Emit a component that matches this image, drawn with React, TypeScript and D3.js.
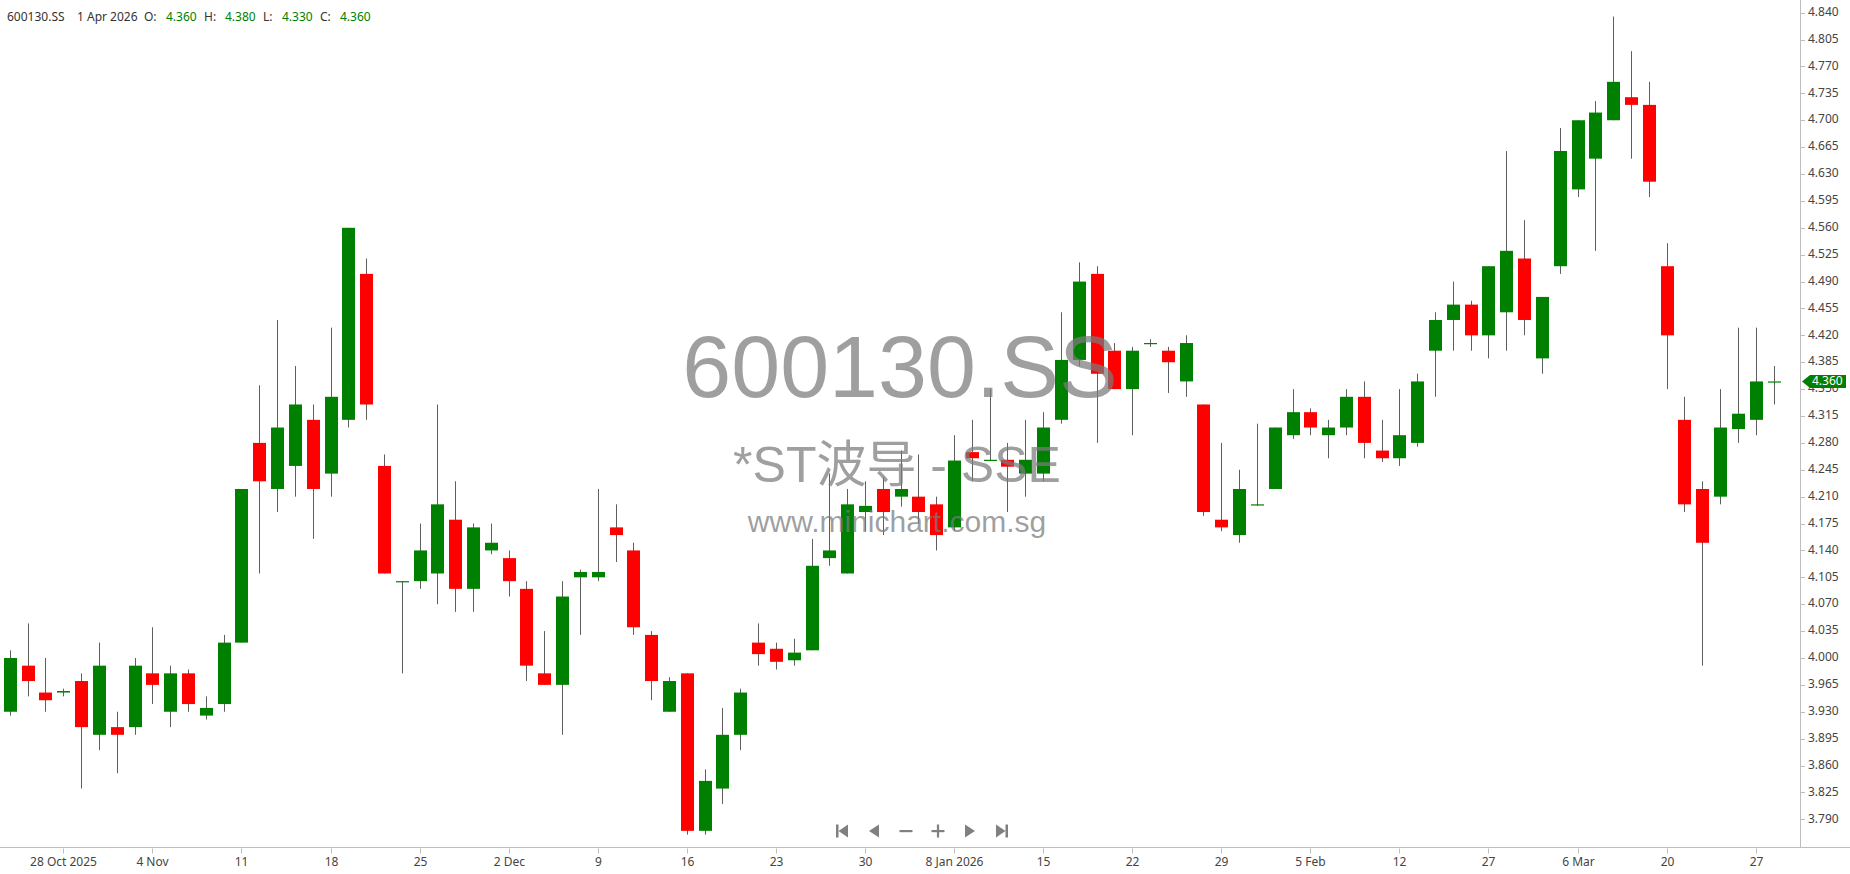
import React, { useEffect } from 'react';
import * as d3 from 'd3';

// ---- data (index 0..99, trading days) ----
const opens = [
  3.93, 3.99, 3.955, 3.955, 3.97, 3.90, 3.91, 3.91, 3.98, 3.93,
  3.98, 3.925, 3.94, 4.02, 4.28, 4.22, 4.25, 4.31, 4.24, 4.31,
  4.50, 4.25, 4.10, 4.10, 4.11, 4.18, 4.09, 4.14, 4.13, 4.09,
  3.98, 3.965, 4.105, 4.105, 4.17, 4.14, 4.03, 3.93, 3.98, 3.775,
  3.83, 3.90, 4.02, 4.012, 3.997, 4.01, 4.13, 4.11, 4.19, 4.22,
  4.21, 4.21, 4.20, 4.17, 4.268, 4.258, 4.258, 4.24, 4.24, 4.31,
  4.388, 4.50, 4.40, 4.35, 4.41, 4.40, 4.36, 4.33, 4.18, 4.16,
  4.20, 4.22, 4.29, 4.32, 4.29, 4.30, 4.34, 4.27, 4.26, 4.28,
  4.40, 4.44, 4.46, 4.42, 4.45, 4.52, 4.39, 4.51, 4.61, 4.65,
  4.70, 4.73, 4.72, 4.51, 4.31, 4.22, 4.21, 4.298, 4.31, 4.36,
];
const highs = [
  4.01, 4.045, 4.00, 3.96, 3.98, 4.02, 3.93, 4.00, 4.04, 3.99,
  3.985, 3.95, 4.03, 4.22, 4.355, 4.44, 4.38, 4.33, 4.43, 4.56,
  4.52, 4.265, 4.10, 4.175, 4.33, 4.23, 4.175, 4.175, 4.14, 4.10,
  4.035, 4.10, 4.115, 4.22, 4.20, 4.15, 4.035, 3.975, 3.98, 3.855,
  3.935, 3.96, 4.045, 4.02, 4.025, 4.155, 4.24, 4.22, 4.23, 4.235,
  4.27, 4.265, 4.21, 4.29, 4.31, 4.35, 4.28, 4.31, 4.32, 4.45,
  4.515, 4.51, 4.41, 4.405, 4.415, 4.405, 4.42, 4.33, 4.28, 4.245,
  4.305, 4.30, 4.35, 4.325, 4.31, 4.35, 4.36, 4.31, 4.35, 4.37,
  4.45, 4.49, 4.465, 4.51, 4.66, 4.57, 4.47, 4.69, 4.70, 4.725,
  4.835, 4.79, 4.75, 4.54, 4.34, 4.23, 4.35, 4.43, 4.43, 4.38,
];
const lows = [
  3.925, 3.95, 3.93, 3.95, 3.83, 3.88, 3.85, 3.90, 3.94, 3.91,
  3.93, 3.92, 3.93, 4.02, 4.11, 4.19, 4.21, 4.155, 4.21, 4.30,
  4.31, 4.11, 3.98, 4.09, 4.07, 4.06, 4.06, 4.135, 4.08, 3.97,
  3.965, 3.90, 4.03, 4.10, 4.125, 4.03, 3.945, 3.93, 3.77, 3.77,
  3.81, 3.88, 3.99, 3.985, 3.99, 4.01, 4.12, 4.11, 4.165, 4.16,
  4.197, 4.175, 4.14, 4.165, 4.23, 4.257, 4.19, 4.21, 4.23, 4.305,
  4.38, 4.28, 4.35, 4.29, 4.405, 4.345, 4.34, 4.185, 4.165, 4.15,
  4.198, 4.22, 4.285, 4.29, 4.26, 4.29, 4.26, 4.255, 4.25, 4.275,
  4.34, 4.40, 4.40, 4.39, 4.40, 4.42, 4.37, 4.50, 4.60, 4.53,
  4.70, 4.65, 4.60, 4.35, 4.19, 3.99, 4.20, 4.28, 4.29, 4.33,
];
const closes = [
  4.00, 3.97, 3.945, 3.957, 3.91, 3.99, 3.90, 3.99, 3.965, 3.98,
  3.94, 3.935, 4.02, 4.22, 4.23, 4.30, 4.33, 4.22, 4.34, 4.56,
  4.33, 4.11, 4.10, 4.14, 4.20, 4.09, 4.17, 4.15, 4.10, 3.99,
  3.965, 4.08, 4.112, 4.112, 4.16, 4.04, 3.97, 3.97, 3.775, 3.84,
  3.90, 3.955, 4.005, 3.995, 4.007, 4.12, 4.14, 4.20, 4.198, 4.19,
  4.22, 4.19, 4.16, 4.257, 4.26, 4.258, 4.249, 4.258, 4.30, 4.388,
  4.49, 4.37, 4.35, 4.40, 4.41, 4.385, 4.41, 4.19, 4.17, 4.22,
  4.20, 4.30, 4.32, 4.30, 4.30, 4.34, 4.28, 4.26, 4.29, 4.36,
  4.44, 4.46, 4.42, 4.51, 4.53, 4.44, 4.47, 4.66, 4.70, 4.71,
  4.75, 4.72, 4.62, 4.42, 4.20, 4.15, 4.30, 4.318, 4.36, 4.36,
];

const tickIndex = [3, 8, 13, 18, 23, 28, 33, 38, 43, 48, 53, 58, 63, 68, 73, 78, 83, 88, 93, 98];
const tickLabels = [
  '28 Oct 2025', '4 Nov', '11', '18', '25', '2 Dec', '9', '16', '23', '30',
  '8 Jan 2026', '15', '22', '29', '5 Feb', '12', '27', '6 Mar', '20', '27',
];
const yTickValues = [
  4.84, 4.805, 4.77, 4.735, 4.70, 4.665, 4.63, 4.595, 4.56, 4.525, 4.49,
  4.455, 4.42, 4.385, 4.35, 4.315, 4.28, 4.245, 4.21, 4.175, 4.14, 4.105,
  4.07, 4.035, 4.00, 3.965, 3.93, 3.895, 3.86, 3.825, 3.79,
];

const header = { symbol: '600130.SS', date: '1 Apr 2026', o: '4.360', h: '4.380', l: '4.330', c: '4.360' };
const lastPrice = 4.36;

const W = 1850;
const H = 874;
const AXIS_X = 1800;
const AXIS_Y = 847.5;
const UI_FONT = '"Noto Sans", "DejaVu Sans", sans-serif';
const WM_FONT = '"Liberation Sans", Arial, "Noto Sans CJK SC", sans-serif';
const GREEN = '#008000';
const RED = '#ff0000';
const TEXT = '#444';

export default function App() {
  useEffect(() => {
    document.body.style.margin = '0';
    document.body.style.overflow = 'hidden';
  }, []);

  const n = opens.length;
  const x = d3.scaleLinear().domain([0, n - 1]).range([9.85, 1773.5]);
  const y = d3.scaleLinear().domain([3.79, 4.84]).range([819.3, 12.7]);
  const bodyW = 13;

  const candles = d3.range(n).map((i) => {
    const o = opens[i], c = closes[i], hi = highs[i], lo = lows[i];
    const up = c >= o;
    const cx = Math.round(x(i));
    const top = y(Math.max(o, c));
    const bot = y(Math.min(o, c));
    return (
      <g key={i}>
        <line x1={cx + 0.5} x2={cx + 0.5} y1={y(hi)} y2={y(lo)} stroke="#5f5f5f" strokeWidth={1} />
        <rect x={cx + 0.5 - bodyW / 2} y={top} width={bodyW} height={Math.max(1.2, bot - top)} fill={up ? GREEN : RED} />
      </g>
    );
  });

  const ly = y(lastPrice);

  const navY = 831;
  const navX = [842, 874, 906, 938, 970, 1002];
  const navCol = '#808080';

  return (
    <svg width={W} height={H} style={{ position: 'absolute', left: 0, top: 0, background: '#fff' }} xmlns="http://www.w3.org/2000/svg">
      <rect x={0} y={0} width={W} height={H} fill="#fff" />

      {/* candles */}
      <g>{candles}</g>

      {/* watermark */}
      <g fontFamily={WM_FONT} fill="#7a7a7a" fillOpacity={0.72} textAnchor="middle">
        <text x={900} y={397} fontSize={88}>600130.SS</text>
        <text x={897} y={482} fontSize={50}>*ST波导 - SSE</text>
        <text x={897} y={532} fontSize={30}>www.minichart.com.sg</text>
      </g>

      {/* axes lines */}
      <line x1={AXIS_X + 0.5} x2={AXIS_X + 0.5} y1={0} y2={AXIS_Y} stroke="#bdbdbd" strokeWidth={1} />
      <line x1={0} x2={W} y1={AXIS_Y} y2={AXIS_Y} stroke="#bdbdbd" strokeWidth={1} />

      {/* y axis */}
      <g fontFamily={UI_FONT} fontSize={12} fill={TEXT}>
        {yTickValues.map((v) => (
          <g key={v}>
            <line x1={AXIS_X + 1} x2={AXIS_X + 5} y1={Math.round(y(v)) + 0.5} y2={Math.round(y(v)) + 0.5} stroke="#bdbdbd" />
            <text x={AXIS_X + 8} y={y(v)} dominantBaseline="middle">{v.toFixed(3)}</text>
          </g>
        ))}
      </g>

      {/* last price marker */}
      <path d={`M${AXIS_X + 2},${ly} L${AXIS_X + 10},${ly - 6.5} L${W - 4},${ly - 6.5} L${W - 4},${ly + 6.5} L${AXIS_X + 10},${ly + 6.5} Z`} fill={GREEN} />
      <text x={AXIS_X + 12} y={ly} dominantBaseline="middle" fontFamily={UI_FONT} fontSize={12} fill="#fff">{lastPrice.toFixed(3)}</text>

      {/* x axis */}
      <g fontFamily={UI_FONT} fontSize={12} fill={TEXT} textAnchor="middle">
        {tickIndex.map((ti, k) => {
          const tx = Math.round(x(ti)) + 0.5;
          return (
            <g key={k}>
              <line x1={tx} x2={tx} y1={AXIS_Y + 1} y2={AXIS_Y + 6} stroke="#bdbdbd" />
              <text x={tx} y={863} dominantBaseline="middle">{tickLabels[k]}</text>
            </g>
          );
        })}
      </g>

      {/* navigation buttons */}
      <g fill={navCol}>
        <rect x={navX[0] - 6} y={navY - 6.5} width={2.5} height={13} />
        <path d={`M${navX[0] - 3.5},${navY} L${navX[0] + 6},${navY - 6.5} L${navX[0] + 6},${navY + 6.5} Z`} />
        <path d={`M${navX[1] - 5},${navY} L${navX[1] + 5},${navY - 6.5} L${navX[1] + 5},${navY + 6.5} Z`} />
        <rect x={navX[2] - 6.5} y={navY - 1} width={13} height={2.2} />
        <rect x={navX[3] - 6.5} y={navY - 1} width={13} height={2.2} />
        <rect x={navX[3] - 1.1} y={navY - 6.5} width={2.2} height={13} />
        <path d={`M${navX[4] + 5},${navY} L${navX[4] - 5},${navY - 6.5} L${navX[4] - 5},${navY + 6.5} Z`} />
        <path d={`M${navX[5] + 3.5},${navY} L${navX[5] - 6},${navY - 6.5} L${navX[5] - 6},${navY + 6.5} Z`} />
        <rect x={navX[5] + 3.5} y={navY - 6.5} width={2.5} height={13} />
      </g>

      {/* header */}
      <g fontFamily={UI_FONT} fontSize={12} dominantBaseline="middle">
        <text x={7} y={18} fill="#333">{header.symbol}</text>
        <text x={77} y={18} fill="#333">{header.date}</text>
        <text x={144} y={18} fill="#333">O:</text>
        <text x={166} y={18} fill={GREEN}>{header.o}</text>
        <text x={204} y={18} fill="#333">H:</text>
        <text x={225} y={18} fill={GREEN}>{header.h}</text>
        <text x={263} y={18} fill="#333">L:</text>
        <text x={282} y={18} fill={GREEN}>{header.l}</text>
        <text x={320} y={18} fill="#333">C:</text>
        <text x={340} y={18} fill={GREEN}>{header.c}</text>
      </g>
    </svg>
  );
}
